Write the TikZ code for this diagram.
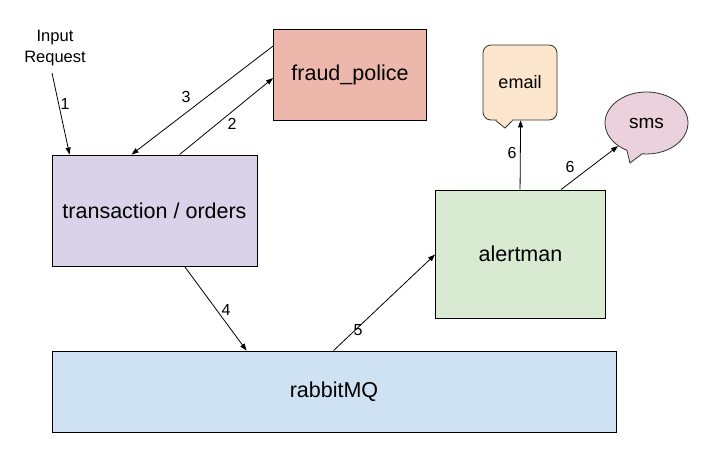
\documentclass[tikz,border=0pt]{standalone}
\usepackage{fontspec}
\setmainfont{Liberation Sans}
\usetikzlibrary{arrows.meta,calc,shapes.callouts,shapes.geometric}
\definecolor{fraudc}{HTML}{EEB7AB}
\definecolor{transc}{HTML}{D9D2E9}
\definecolor{rabbitc}{HTML}{CFE2F3}
\definecolor{alertc}{HTML}{D9EAD3}
\definecolor{emailc}{HTML}{FCE5CD}
\definecolor{smsc}{HTML}{EAD1DC}
\tikzset{
  box/.style={draw=black, line width=0.9pt, inner sep=0pt, font=\fontsize{21.5}{25}\selectfont},
  conn/.style={line width=0.8pt, -{Triangle[length=7pt,width=5pt]}},
  num/.style={font=\fontsize{16}{18}\selectfont, inner sep=0pt},
}
\begin{document}
\begin{tikzpicture}[x=1pt,y=-1pt]
\useasboundingbox (0,0) rectangle (704,461);
\fill[white] (0,0) rectangle (704,461);
\node[box, fill=fraudc, minimum width=153pt, minimum height=91pt] (fraud) at (350,75) {fraud\_police};
\node[box, fill=transc, minimum width=205pt, minimum height=111pt] (trans) at (154.5,210.5) {transaction / orders};
\node[box, fill=alertc, minimum width=170pt, minimum height=128pt] (alert) at (520.5,254) {alertman};
\node[box, fill=rabbitc, minimum width=564pt, minimum height=81pt] (rabbit) at (334,391.5) {rabbitMQ};
\coordinate (emailtip) at (505,128);
\coordinate (smstip) at (630,163);
\node[box, rectangle, rounded corners=8pt, line width=0.8pt, draw=black!80, fill=emailc,
      minimum width=74pt, minimum height=75pt, font=\fontsize{18}{22}\selectfont] (email) at (520,82.5) {email};
\filldraw[fill=emailc, draw=black!80, line width=0.8pt, line join=miter]
  ($(email.south west)+(13,0)$) -- (emailtip) -- ($(email.south west)+(30,0)$);
\fill[emailc] ($(email.south west)+(14,-1.6)$) rectangle ($(email.south west)+(29,0.6)$);
\node[box, ellipse callout, line width=0.8pt, draw=black!80, fill=smsc,
      minimum width=83pt, minimum height=62pt, font=\fontsize{19}{22}\selectfont,
      callout absolute pointer={(smstip)}, callout pointer arc=22] (sms) at (646.5,123) {sms};
\node[align=center, font=\fontsize{16.5}{21}\selectfont, inner sep=0pt] (input) at (55,48) {Input\\Request};
\coordinate (inend) at (52,73);
\draw[conn] (inend) -- ($(trans.north west)+(18,0)$);
\draw[conn] ($(fraud.north west)+(0,17)$) -- ($(trans.north west)+(80,0)$);
\draw[conn] ($(trans.north west)+(128,0)$) -- ($(fraud.north west)+(0,49)$);
\draw[conn] ($(trans.south west)+(133,0)$) -- ($(rabbit.north west)+(195,0)$);
\draw[conn] ($(rabbit.north west)+(282,0)$) -- ($(alert.north west)+(0,65)$);
\draw[conn] ($(alert.north west)+(85,0)$) -- ($(email.south west)+(38,0)$);
\draw[conn] ($(alert.north west)+(126,0)$) -- (sms.219);
\node[num] (l1) at (65,104) {1};
\node[num] (l3) at (186,97) {3};
\node[num] (l2) at (232,124) {2};
\node[num] (l4) at (226,310) {4};
\node[num] (l5) at (358,330) {5};
\node[num] (l6a) at (512,153) {6};
\node[num] (l6b) at (570,167) {6};
\end{tikzpicture}
\end{document}
